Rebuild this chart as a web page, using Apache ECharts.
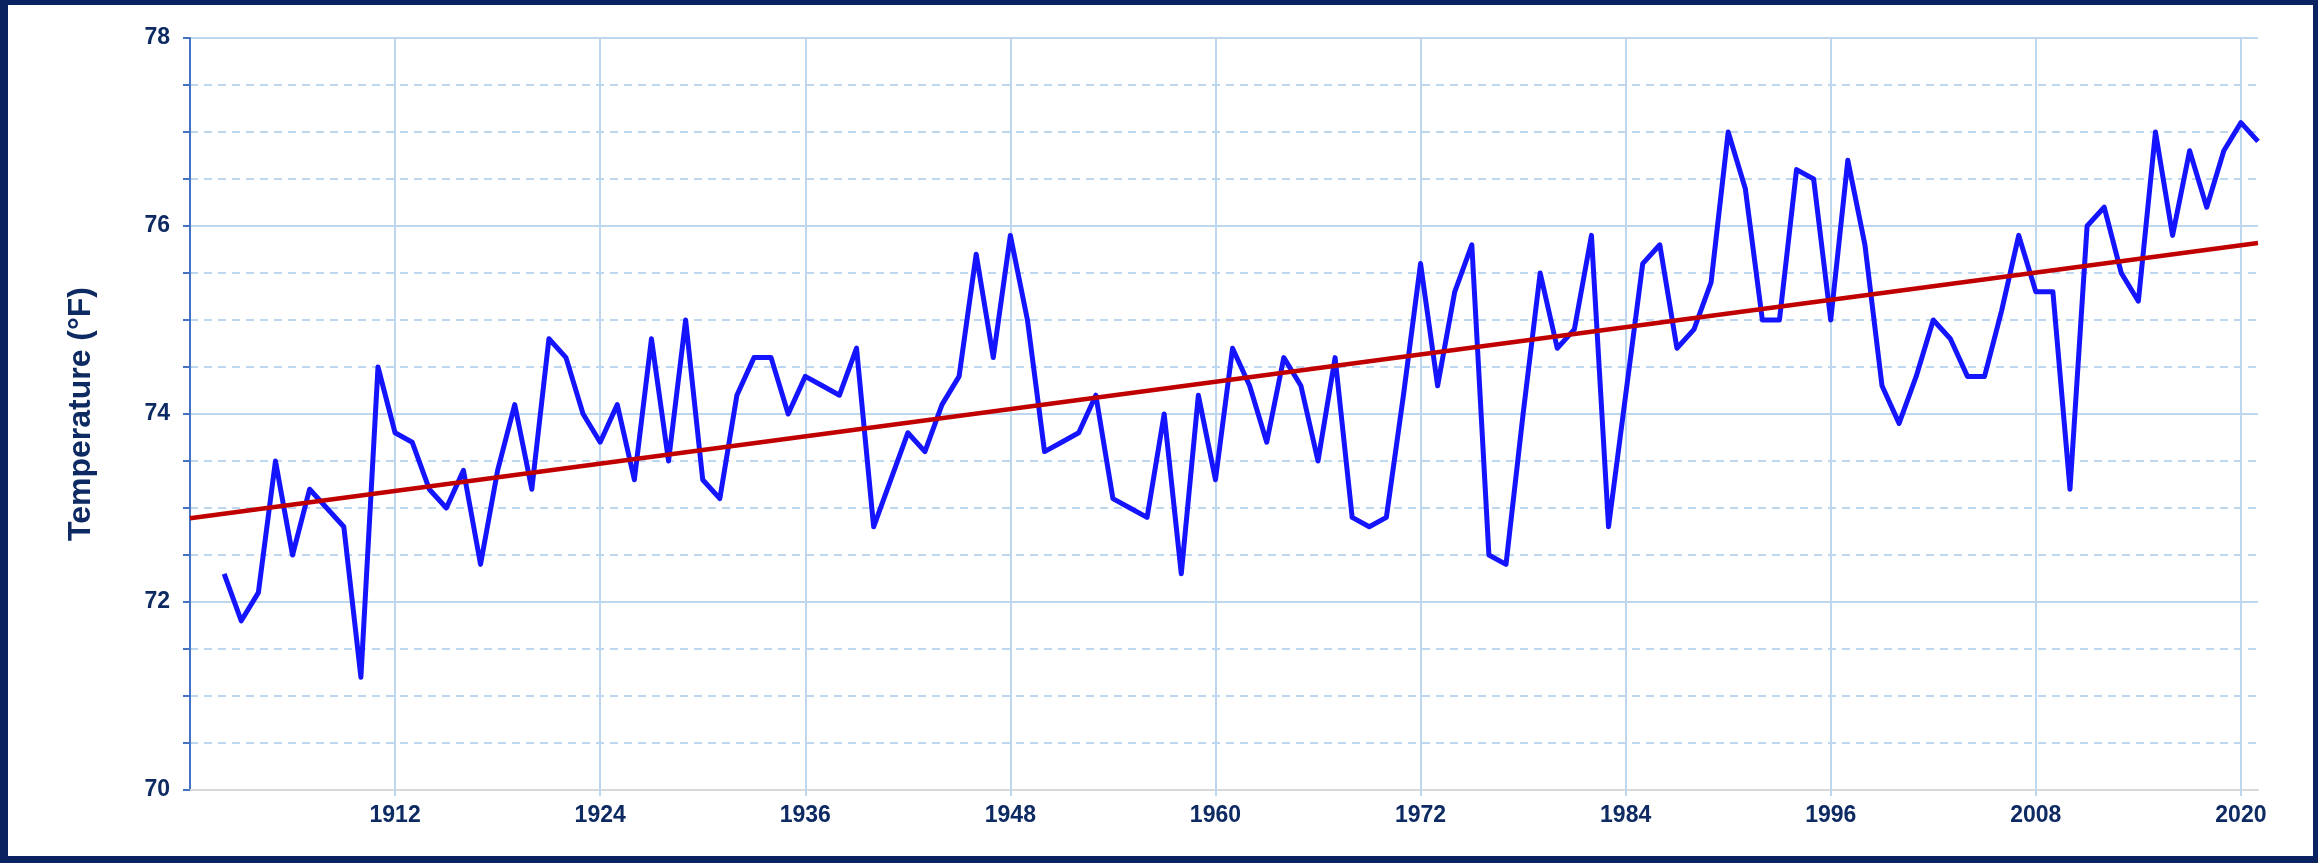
<!DOCTYPE html>
<html>
<head>
<meta charset="utf-8">
<script src="https://cdn.jsdelivr.net/npm/echarts@6/dist/echarts.min.js"></script>
<style>
  html, body { margin: 0; padding: 0; background: #0b2260; }
  #chart { position: absolute; left: 8px; top: 5px; width: 2305px; height: 851px; background: #fff; }
</style>
</head>
<body>
<div id="chart"></div>
<script>
// annual mean temperature (°F), one value per year starting at firstYear
var firstYear = 1902;
var temps = [
  72.3, 71.8, 72.1, 73.5, 72.5, 73.2, 73.0, 72.8,             // 1902-1909
  71.2, 74.5, 73.8, 73.7, 73.2, 73.0, 73.4, 72.4, 73.4, 74.1, // 1910s
  73.2, 74.8, 74.6, 74.0, 73.7, 74.1, 73.3, 74.8, 73.5, 75.0, // 1920s
  73.3, 73.1, 74.2, 74.6, 74.6, 74.0, 74.4, 74.3, 74.2, 74.7, // 1930s
  72.8, 73.3, 73.8, 73.6, 74.1, 74.4, 75.7, 74.6, 75.9, 75.0, // 1940s
  73.6, 73.7, 73.8, 74.2, 73.1, 73.0, 72.9, 74.0, 72.3, 74.2, // 1950s
  73.3, 74.7, 74.3, 73.7, 74.6, 74.3, 73.5, 74.6, 72.9, 72.8, // 1960s
  72.9, 74.2, 75.6, 74.3, 75.3, 75.8, 72.5, 72.4, 74.0, 75.5, // 1970s
  74.7, 74.9, 75.9, 72.8, 74.2, 75.6, 75.8, 74.7, 74.9, 75.4, // 1980s
  77.0, 76.4, 75.0, 75.0, 76.6, 76.5, 75.0, 76.7, 75.8, 74.3, // 1990s
  73.9, 74.4, 75.0, 74.8, 74.4, 74.4, 75.1, 75.9, 75.3, 75.3, // 2000s
  73.2, 76.0, 76.2, 75.5, 75.2, 77.0, 75.9, 76.8, 76.2, 76.8, // 2010s
  77.1, 76.9                                                  // 2020-2021
];

// linear trend, read at the two ends of the axis
var trendYears = [1900, 2021];
var trendValues = [72.89, 75.82];

// labelled years on the x axis
var xTicks = [1912, 1924, 1936, 1948, 1960, 1972, 1984, 1996, 2008, 2020];

var navy = '#0d2a62';
var gridBlue = '#bdd7ee';
var font = 'Liberation Sans, Arial, sans-serif';

var tempData = temps.map(function (v, i) { return [firstYear + i, v]; });
var trendData = trendYears.map(function (y, i) { return [y, trendValues[i]]; });

var myChart = echarts.init(document.getElementById('chart'));
myChart.setOption({
  animation: false,
  backgroundColor: '#fff',
  grid: { left: 182, right: 55, top: 33, bottom: 66 },
  xAxis: {
    type: 'value',
    min: 1900,
    max: 2021,
    axisLine: { show: true, onZero: false, lineStyle: { color: '#d9d9d9', width: 2 } },
    axisTick: { show: true, customValues: xTicks, length: 6, lineStyle: { color: gridBlue, width: 2 } },
    axisLabel: {
      customValues: xTicks,
      formatter: function (v) { return String(v); },
      margin: 14,
      color: navy,
      fontSize: 23,
      fontWeight: 'bold',
      fontFamily: font
    },
    splitLine: { show: false }
  },
  yAxis: {
    type: 'value',
    min: 70,
    max: 78,
    interval: 2,
    name: 'Temperature (°F)',
    nameLocation: 'middle',
    nameGap: 93,
    nameTextStyle: { color: navy, fontSize: 32, fontWeight: 'bold', fontFamily: font },
    axisLine: { show: true, onZero: false, lineStyle: { color: '#4472c4', width: 2 } },
    axisTick: { show: true, length: 7, lineStyle: { color: '#4472c4', width: 2 } },
    minorTick: { show: true, splitNumber: 4, length: 7, lineStyle: { color: '#4472c4', width: 2 } },
    axisLabel: { margin: 20, color: navy, fontSize: 23, fontWeight: 'bold', fontFamily: font },
    splitLine: { show: true, lineStyle: { color: gridBlue, width: 2 } },
    minorSplitLine: { show: true, lineStyle: { color: gridBlue, width: 2, type: [8, 6] } }
  },
  series: [
    {
      name: 'Temperature',
      type: 'line',
      data: tempData,
      symbol: 'none',
      z: 3,
      lineStyle: { color: '#1414ff', width: 5, join: 'round' },
      markLine: {
        silent: true,
        z: 1,
        symbol: ['none', 'none'],
        label: { show: false },
        lineStyle: { color: gridBlue, width: 2, type: 'solid' },
        data: xTicks.map(function (y) { return { xAxis: y }; })
      }
    },
    {
      name: 'Trend',
      type: 'line',
      data: trendData,
      symbol: 'none',
      z: 4,
      lineStyle: { color: '#c00000', width: 4.5 }
    }
  ]
});
window.onresize = myChart.resize;
</script>
</body>
</html>
